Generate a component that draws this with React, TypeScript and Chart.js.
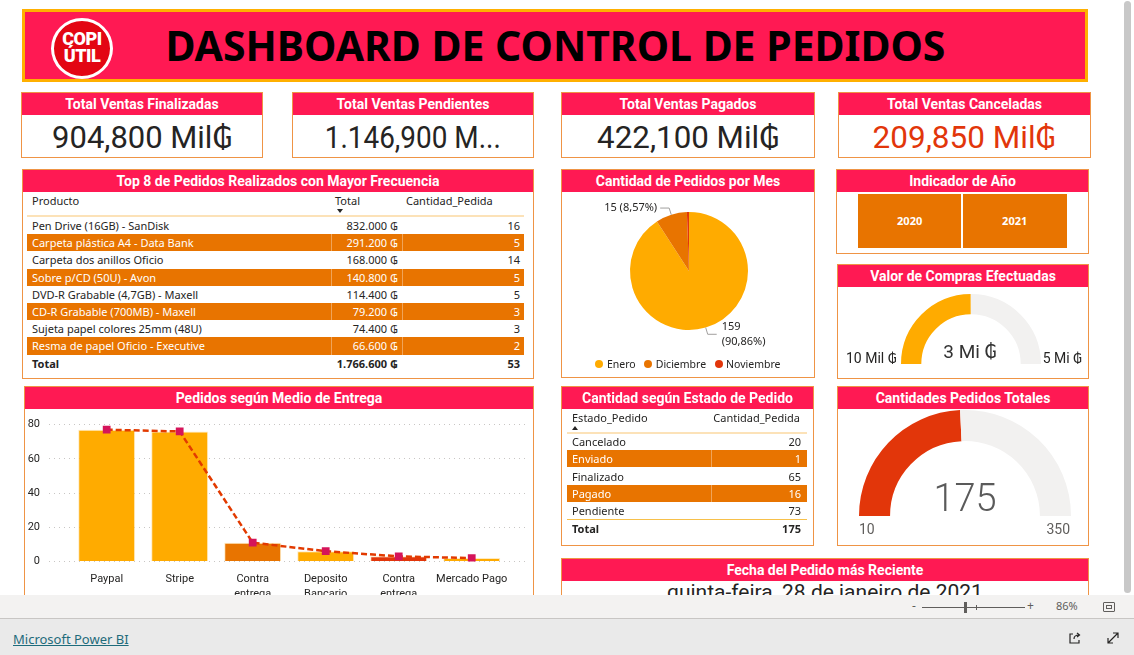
import React, { useEffect, useLayoutEffect, useRef } from 'react';
import { Chart, registerables } from 'chart.js';
Chart.register(...registerables);

// ---------------- data ----------------
const reportTitle = 'DASHBOARD DE CONTROL DE PEDIDOS';
const logoLines = ['COPI', 'ÚTIL'];
const kpiTitles = ['Total Ventas Finalizadas', 'Total Ventas Pendientes', 'Total Ventas Pagados', 'Total Ventas Canceladas'];
const kpiValues = ['904,800 Mil₲', '1.146,900 M...', '422,100 Mil₲', '209,850 Mil₲'];

const productColumns = ['Producto', 'Total', 'Cantidad_Pedida'];
const productNames = [
  'Pen Drive (16GB) - SanDisk',
  'Carpeta plástica A4 - Data Bank',
  'Carpeta dos anillos Oficio',
  'Sobre p/CD (50U) - Avon',
  'DVD-R Grabable (4,7GB) - Maxell',
  'CD-R Grabable (700MB) - Maxell',
  'Sujeta papel colores 25mm (48U)',
  'Resma de papel Oficio - Executive',
];
const productTotals = ['832.000 ₲', '291.200 ₲', '168.000 ₲', '140.800 ₲', '114.400 ₲', '79.200 ₲', '74.400 ₲', '66.600 ₲'];
const productQty = [16, 5, 14, 5, 5, 3, 3, 2];
const productTotalSum = '1.766.600 ₲';
const productQtySum = 53;

const months = ['Enero', 'Diciembre', 'Noviembre'];
const monthOrders = [159, 15, 1];

const years = ['2020', '2021'];

const comprasLabels = ['10 Mil ₲', '3 Mi ₲', '5 Mi ₲'];
const comprasGauge = [0.01, 2.5, 5]; // min, value, max (Mi)

const deliveryMethods = [['Paypal'], ['Stripe'], ['Contra', 'entrega'], ['Deposito', 'Bancario'], ['Contra', 'entrega'], ['Mercado Pago']];
const deliveryOrders = [77, 76, 11, 6, 3, 2];
const yTicks = [0, 80, 20]; // min, max, step

const estadoColumns = ['Estado_Pedido', 'Cantidad_Pedida'];
const estados = ['Cancelado', 'Enviado', 'Finalizado', 'Pagado', 'Pendiente'];
const estadoQty = [20, 1, 65, 16, 73];
const estadoTotal = 175;

const pedidosGauge = [10, 175, 350]; // min, value, max

const latestDate = 'quinta-feira, 28 de janeiro de 2021';

// ---------------- styles ----------------
const PINK = '#FF1953';
const ORANGE = '#E87400';
const AMBER = '#FFAB00';
const RED = '#E2360A';
const BORDER = '#EF9445';
const DIN = 'Roboto, "DejaVu Sans", sans-serif';
const SEG = '"Noto Sans", "Open Sans", "DejaVu Sans", sans-serif';
const DARK = '#252423';

Chart.defaults.font.family = 'Roboto';

const abs = (l: number, t: number, w: number, h: number): React.CSSProperties => ({
  position: 'absolute', left: l, top: t, width: w, height: h, boxSizing: 'border-box',
});

function Card({ l, t, w, h, title }: { l: number; t: number; w: number; h: number; title: string }) {
  return (
    <div style={{ ...abs(l, t, w, h), border: `1px solid ${BORDER}`, background: '#fff' }}>
      <div style={{ position: 'absolute', left: 0, top: 0, right: 0, height: 22, background: PINK, color: '#fff',
        font: `700 14px ${DIN}`, lineHeight: '22px', textAlign: 'center', whiteSpace: 'nowrap' }}>{title}</div>
    </div>
  );
}

function Text({ l, t, w, h, children, style }: any) {
  return <div style={{ ...abs(l, t, w, h), whiteSpace: 'nowrap', ...style, lineHeight: h + 'px' }}>{children}</div>;
}

function FitText({ l, t, w, h, target, children, style }: any) {
  const ref = useRef<HTMLSpanElement>(null);
  useLayoutEffect(() => {
    const el = ref.current!;
    el.style.transform = 'none';
    const nat = el.getBoundingClientRect().width;
    if (nat > 0) el.style.transform = `scaleX(${target / nat})`;
  }, []);
  return (
    <div style={{ ...abs(l, t, w, h), whiteSpace: 'nowrap', textAlign: 'center', ...style, lineHeight: h + 'px' }}>
      <span ref={ref} style={{ display: 'inline-block', transformOrigin: 'center' }}>{children}</span>
    </div>
  );
}

function Gauge({ l, t, r, cut, vals, color }: { l: number; t: number; r: number; cut: string; vals: number[]; color: string }) {
  const ref = useRef<HTMLCanvasElement>(null);
  useEffect(() => {
    const [min, value, max] = vals;
    const chart = new Chart(ref.current!, {
      type: 'doughnut',
      data: { labels: ['valor', 'resto'], datasets: [{ data: [value - min, max - value], backgroundColor: [color, '#F2F1F0'], borderWidth: 0 }] },
      options: {
        animation: false, responsive: false, rotation: -90, circumference: 180, cutout: cut,
        layout: { padding: 0 },
        plugins: { legend: { display: false }, tooltip: { enabled: false } },
      },
    } as any);
    return () => chart.destroy();
  }, []);
  return <canvas ref={ref} width={2 * r} height={r} style={{ position: 'absolute', left: l, top: t }} />;
}

const pieLabelPlugin = {
  id: 'pieLabels',
  afterDraw(chart: any) {
    const { ctx } = chart;
    const meta = chart.getDatasetMeta(0);
    const vals = chart.data.datasets[0].data as number[];
    const total = vals.reduce((a, b) => a + b, 0);
    ctx.save();
    ctx.font = `11px "Noto Sans"`;
    ctx.fillStyle = DARK;
    ctx.strokeStyle = '#A19F9D';
    ctx.lineWidth = 1;
    ctx.textBaseline = 'middle';
    [0, 1].forEach((i) => {
      const arc = meta.data[i];
      const mid = (arc.startAngle + arc.endAngle) / 2;
      const r = arc.outerRadius;
      const x0 = arc.x + Math.cos(mid) * r, y0 = arc.y + Math.sin(mid) * r;
      const x1 = arc.x + Math.cos(mid) * (r + 7), y1 = arc.y + Math.sin(mid) * (r + 7);
      const right = Math.cos(mid) >= 0;
      const x2 = x1 + (right ? 9 : -9);
      ctx.beginPath(); ctx.moveTo(x0, y0); ctx.lineTo(x1, y1); ctx.lineTo(x2, y1); ctx.stroke();
      const pct = ((vals[i] / total) * 100).toFixed(2).replace('.', ',');
      if (right) {
        ctx.textAlign = 'left';
        ctx.fillText(String(vals[i]), x2 + 5, y1 - 7.5);
        ctx.fillText(`(${pct}%)`, x2 + 5, y1 + 7.5);
      } else {
        ctx.textAlign = 'right';
        ctx.fillText(`${vals[i]} (${pct}%)`, x2 - 3, y1);
      }
    });
    ctx.restore();
  },
};

const monthColors = [AMBER, ORANGE, RED];

function PieChart() {
  const ref = useRef<HTMLCanvasElement>(null);
  useEffect(() => {
    const chart = new Chart(ref.current!, {
      type: 'pie',
      data: { labels: months, datasets: [{ data: monthOrders, backgroundColor: monthColors, borderWidth: 0 }] },
      options: {
        animation: false, responsive: false,
        layout: { padding: { top: 20, bottom: 48, left: 68, right: 66 } },
        plugins: { legend: { display: false }, tooltip: { enabled: false } },
      },
      plugins: [pieLabelPlugin],
    } as any);
    return () => chart.destroy();
  }, []);
  return <canvas ref={ref} width={252} height={186} style={{ position: 'absolute', left: 562, top: 192 }} />;
}

const barColors = [AMBER, AMBER, ORANGE, AMBER, RED, AMBER];

function DeliveryChart() {
  const ref = useRef<HTMLCanvasElement>(null);
  useEffect(() => {
    const pts = deliveryOrders.map((v, i) => ({ x: i, y: v }));
    const chart = new Chart(ref.current!, {
      type: 'bar',
      data: {
        datasets: [
          { type: 'line', data: pts, borderColor: '#E23A00', borderWidth: 2.5, borderDash: [6, 3], pointStyle: 'rect',
            pointRadius: 5.5, pointBackgroundColor: '#D5145A', pointBorderWidth: 0, order: 0, fill: false, tension: 0 },
          { type: 'bar', data: pts, backgroundColor: barColors, borderColor: 'rgba(255,220,150,0.6)', borderWidth: { top: 1, left: 1, right: 1, bottom: 0 },
            borderSkipped: 'bottom', categoryPercentage: 1, barPercentage: 0.78, order: 1 },
        ],
      },
      options: {
        animation: false, responsive: false,
        layout: { padding: { top: 8.5, right: 6, bottom: 7.5, left: 0 } },
        plugins: { legend: { display: false }, tooltip: { enabled: false } },
        scales: {
          x: {
            type: 'linear', bounds: 'data', min: -0.79, max: 5.757, offset: false,
            grid: { display: false, drawTicks: false }, border: { display: false },
            ticks: { autoSkip: false, maxRotation: 0, padding: 10, color: DARK,
              font: { size: 11, lineHeight: 1.4 }, callback: (v: any) => deliveryMethods[Math.round(v)] ?? '' },
            afterBuildTicks: (s: any) => { s.ticks = deliveryMethods.map((_, i) => ({ value: i })); },
            afterFit: (s: any) => { s.height = 40; },
          },
          y: {
            min: yTicks[0], max: yTicks[1],
            grid: { color: '#C8C6C4', drawTicks: false }, border: { display: false, dash: [1, 4] },
            ticks: { stepSize: yTicks[2], padding: 9, color: DARK, font: { size: 11 } },
            afterFit: (s: any) => { s.width = 24; },
          },
        },
      },
    } as any);
    return () => chart.destroy();
  }, []);
  return <canvas ref={ref} width={508} height={200} style={{ position: 'absolute', left: 25, top: 409 }} />;
}

function TopTable() {
  const rowH = 17.2;
  const cell: React.CSSProperties = { position: 'absolute', top: 0, lineHeight: rowH + 'px', whiteSpace: 'nowrap' };
  return (
    <>
      <Text l={32} t={193} w={100} h={16} style={{ font: `11px ${SEG}`, color: DARK }}>{productColumns[0]}</Text>
      <Text l={335} t={193} w={60} h={16} style={{ font: `11px ${SEG}`, color: DARK }}>{productColumns[1]}</Text>
      <Text l={406} t={193} w={110} h={16} style={{ font: `11px ${SEG}`, color: DARK }}>{productColumns[2]}</Text>
      <div style={{ position: 'absolute', left: 337, top: 209, width: 0, height: 0, borderLeft: '3px solid transparent', borderRight: '3px solid transparent', borderTop: `4px solid ${DARK}` }} />
      <div style={{ ...abs(27, 215, 497, 2), background: '#FCE2B8' }} />
      {productNames.map((name, i) => {
        const odd = i % 2 === 1;
        return (
          <div key={i} style={{ ...abs(27, 217 + i * rowH, 497, rowH), background: odd ? ORANGE : 'transparent',
            color: odd ? '#fff' : DARK, font: `11px ${SEG}` }}>
            <span style={{ ...cell, left: 5 }}>{name}</span>
            <span style={{ ...cell, right: 126 }}>{productTotals[i]}</span>
            <span style={{ ...cell, right: 4 }}>{productQty[i]}</span>
            {odd && <div style={{ position: 'absolute', left: 303.5, top: 0, width: 1, height: rowH, background: 'rgba(255,255,255,0.35)' }} />}
            {odd && <div style={{ position: 'absolute', left: 375, top: 0, width: 1, height: rowH, background: 'rgba(255,255,255,0.35)' }} />}
          </div>
        );
      })}
      <div style={{ ...abs(27, 217 + 8 * rowH, 497, rowH), color: DARK, font: `700 11px ${SEG}` }}>
        <span style={{ ...cell, left: 5 }}>Total</span>
        <span style={{ ...cell, right: 126 }}>{productTotalSum}</span>
        <span style={{ ...cell, right: 4 }}>{productQtySum}</span>
      </div>
    </>
  );
}

function EstadoTable() {
  const rowH = 17.1;
  const cell: React.CSSProperties = { position: 'absolute', top: 0, lineHeight: rowH + 'px', whiteSpace: 'nowrap' };
  return (
    <>
      <Text l={572} t={410} w={100} h={16} style={{ font: `11px ${SEG}`, color: DARK }}>{estadoColumns[0]}</Text>
      <Text l={690} t={410} w={110} h={16} style={{ font: `11px ${SEG}`, color: DARK, textAlign: 'right' }}>{estadoColumns[1]}</Text>
      <div style={{ position: 'absolute', left: 572, top: 425.5, width: 0, height: 0, borderLeft: '3px solid transparent', borderRight: '3px solid transparent', borderBottom: `4px solid ${DARK}` }} />
      <div style={{ ...abs(567, 431.5, 240, 2), background: '#FCE2B8' }} />
      {estados.map((name, i) => {
        const odd = i % 2 === 1;
        return (
          <div key={i} style={{ ...abs(567, 433.3 + i * rowH, 240, rowH), background: odd ? ORANGE : 'transparent',
            color: odd ? '#fff' : DARK, font: `11px ${SEG}` }}>
            <span style={{ ...cell, left: 5 }}>{name}</span>
            <span style={{ ...cell, right: 6 }}>{estadoQty[i]}</span>
            {odd && <div style={{ position: 'absolute', left: 143.5, top: 0, width: 1, height: rowH, background: 'rgba(255,255,255,0.35)' }} />}
          </div>
        );
      })}
      <div style={{ ...abs(567, 518.8, 240, 1.5), background: '#F7C04A' }} />
      <div style={{ ...abs(567, 520.3, 240, rowH), color: DARK, font: `700 11px ${SEG}` }}>
        <span style={{ ...cell, left: 5 }}>Total</span>
        <span style={{ ...cell, right: 6 }}>{estadoTotal}</span>
      </div>
    </>
  );
}

function Footer() {
  return (
    <>
      <div style={{ ...abs(0, 595, 1134, 23), background: '#F3F2F1' }} />
      <div style={{ ...abs(0, 618, 1134, 1), background: '#C8C6C4' }} />
      <div style={{ ...abs(0, 619, 1134, 36), background: '#EAEAEA' }} />
      <Text l={912} t={598} w={10} h={16} style={{ font: `12px ${SEG}`, color: '#605E5C' }}>-</Text>
      <div style={{ ...abs(922, 607, 103, 1), background: '#605E5C' }} />
      <div style={{ ...abs(964, 602, 3, 11), background: '#605E5C' }} />
      <div style={{ ...abs(976, 605, 1, 5), background: '#605E5C' }} />
      <Text l={1027} t={598} w={12} h={16} style={{ font: `12px ${SEG}`, color: '#605E5C' }}>+</Text>
      <Text l={1056} t={598} w={30} h={16} style={{ font: `11px ${SEG}`, color: '#605E5C' }}>86%</Text>
      <div style={{ ...abs(1103, 602, 12, 10), border: '1px solid #605E5C', borderRadius: 1 }} />
      <div style={{ ...abs(1106, 605, 6, 4), border: '1px solid #605E5C' }} />
      <Text l={13} t={629} w={130} h={20} style={{ font: `13px ${SEG}`, color: '#1E6B7B', textDecoration: 'underline' }}>Microsoft Power BI</Text>
      <svg style={{ position: 'absolute', left: 1068, top: 631 }} width="14" height="14" viewBox="0 0 14 14">
        <path d="M5 3 H2 V12 H11 V9" fill="none" stroke="#252423" strokeWidth="1.2" />
        <path d="M6 8 C6 5 8 4 11 4 M9 2 L11.5 4 L9 6" fill="none" stroke="#252423" strokeWidth="1.2" />
      </svg>
      <svg style={{ position: 'absolute', left: 1106, top: 631 }} width="14" height="14" viewBox="0 0 14 14">
        <path d="M2 12 L12 2 M7 2 H12 V7 M2 7 V12 H7" fill="none" stroke="#252423" strokeWidth="1.2" />
      </svg>
    </>
  );
}

export default function App() {
  const kpiBoxes = [[21, 242], [292, 242], [561, 254], [838, 253]];
  const kpiWidths = [180, 176, 182, 183];
  return (
    <div style={{ position: 'fixed', left: 0, top: 0, width: 1134, height: 655, overflow: 'hidden', background: '#fff', fontFamily: SEG }}>
      {/* header */}
      <div style={{ ...abs(22, 9, 1066, 73), background: PINK, border: '3px solid #FFB000' }} />
      <div style={{ ...abs(51, 18, 62, 61), borderRadius: '50%', background: '#E30613', border: '3px solid #fff' }} />
      <Text l={51} t={31} w={62} h={16} style={{ color: '#fff', font: `900 18px ${DIN}`, textAlign: 'center', letterSpacing: -0.5 }}>{logoLines[0]}</Text>
      <Text l={51} t={47} w={62} h={18} style={{ color: '#fff', font: `900 18px ${DIN}`, textAlign: 'center', letterSpacing: -0.5 }}>{logoLines[1]}</Text>
      <FitText l={22} t={18} w={1066} h={54} target={780} style={{ font: `700 41px ${SEG}`, color: '#000' }}>{reportTitle}</FitText>

      {/* KPI cards */}
      {kpiBoxes.map(([l, w], i) => (
        <React.Fragment key={i}>
          <Card l={l} t={92} w={w} h={66} title={kpiTitles[i]} />
          <FitText l={l} t={118} w={w} h={40} target={kpiWidths[i]} style={{ font: `31px ${DIN}`, color: i === 3 ? RED : DARK }}>{kpiValues[i]}</FitText>
        </React.Fragment>
      ))}

      {/* top 8 */}
      <Card l={22} t={169} w={512} h={210} title="Top 8 de Pedidos Realizados con Mayor Frecuencia" />
      <TopTable />

      {/* pie */}
      <Card l={561} t={169} w={254} h={209} title="Cantidad de Pedidos por Mes" />
      <PieChart />
      <div style={{ ...abs(562, 356, 252, 16), display: 'flex', justifyContent: 'center', alignItems: 'center', font: `10.5px ${SEG}`, color: DARK }}>
        {months.map((m, i) => (
          <div key={m} style={{ display: 'flex', alignItems: 'center', marginLeft: i ? 8.5 : 0 }}>
            <div style={{ width: 8, height: 8, borderRadius: '50%', background: monthColors[i], marginRight: 3.5 }} />
            <span>{m}</span>
          </div>
        ))}
      </div>

      {/* year indicator */}
      <Card l={836} t={169} w={253} h={85} title="Indicador de Año" />
      {years.map((y, i) => (
        <Text key={y} l={i ? 962.7 : 858.3} t={194} w={i ? 104 : 102.7} h={54.3}
          style={{ background: ORANGE, color: '#fff', font: `700 11px ${SEG}`, textAlign: 'center' }}>{y}</Text>
      ))}

      {/* valor compras gauge */}
      <Card l={837} t={264} w={252} h={115} title="Valor de Compras Efectuadas" />
      <Gauge l={901} t={294} r={70} cut="71%" vals={comprasGauge} color={AMBER} />
      <Text l={846} t={349} w={60} h={18} style={{ font: `14px ${DIN}`, color: DARK }}>{comprasLabels[0]}</Text>
      <Text l={930} t={340} w={80} h={24} style={{ font: `19px ${DIN}`, color: '#333', textAlign: 'center' }}>{comprasLabels[1]}</Text>
      <Text l={1022} t={349} w={60} h={18} style={{ font: `14px ${DIN}`, color: DARK, textAlign: 'right' }}>{comprasLabels[2]}</Text>

      {/* delivery chart */}
      <Card l={24} t={386} w={510} h={240} title="Pedidos según Medio de Entrega" />
      <DeliveryChart />

      {/* estado table */}
      <Card l={561} t={386} w={253} h={160} title="Cantidad según Estado de Pedido" />
      <EstadoTable />

      {/* totales gauge */}
      <Card l={837} t={386} w={252} h={160} title="Cantidades Pedidos Totales" />
      <Gauge l={859} t={410} r={106} cut="70.7%" vals={pedidosGauge} color={RED} />
      <Text l={915} t={476} w={100} h={44} style={{ font: `300 38px ${DIN}`, color: '#5A5A5A', textAlign: 'center' }}>{pedidosGauge[1]}</Text>
      <Text l={859} t={520} w={40} h={18} style={{ font: `14px ${DIN}`, color: '#605E5C' }}>{pedidosGauge[0]}</Text>
      <Text l={1030} t={520} w={40} h={18} style={{ font: `14px ${DIN}`, color: '#605E5C', textAlign: 'right' }}>{pedidosGauge[2]}</Text>

      {/* fecha */}
      <Card l={561} t={558} w={528} h={70} title="Fecha del Pedido más Reciente" />
      <FitText l={561} t={580} w={528} h={24} target={316} style={{ font: `21px ${DIN}`, color: DARK }}>{latestDate}</FitText>

      {/* scrollbar */}
      <div style={{ ...abs(1124, 1, 7, 592), background: '#C8C8C8', borderRadius: 4 }} />

      <Footer />
    </div>
  );
}
